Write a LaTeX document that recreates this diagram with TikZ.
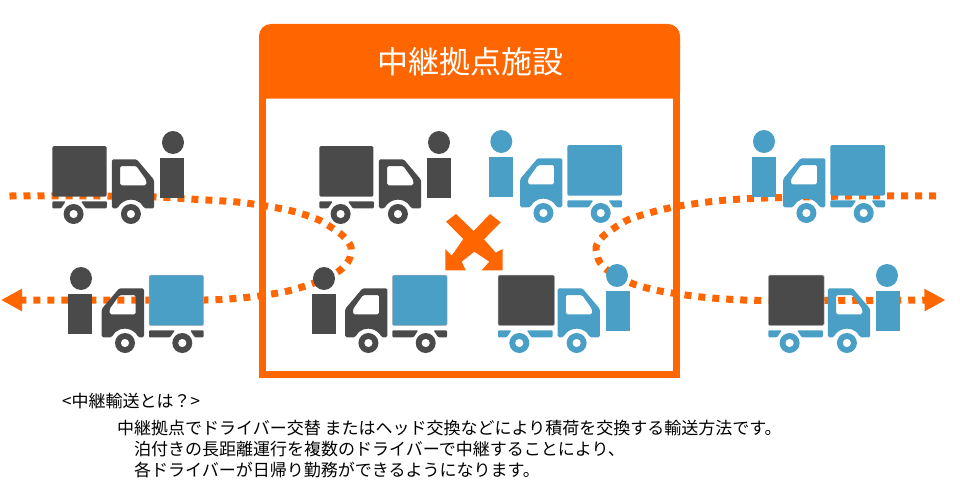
\documentclass[tikz,border=0pt]{standalone}
\usepackage{fontspec}
\setmainfont{Noto Sans CJK JP}
\usetikzlibrary{arrows.meta}
\definecolor{tkorange}{HTML}{FF6600}
\definecolor{tkdark}{HTML}{4A4A4A}
\definecolor{tkblue}{HTML}{4A9FC6}
\tikzset{
  pics/truck/.style n args={4}{code={
    % cargo box
    \fill[fill=#2,draw=#4,line width=.5pt,rounded corners=1.5pt] (0,0) rectangle (#3,50.7);
    % chassis
    \fill[fill=#1,rounded corners=1pt] (0,55.3) -- (13.4,55.3) -- (8.8,62.3) -- (0,62.3) -- cycle;
    \fill[fill=#1,rounded corners=1pt] (28.8,55.3) -- (54.6,55.3) -- (54.6,62.3) -- (33.4,62.3) -- cycle;
    % cab with window
    \fill[fill=#1,even odd rule,rounded corners=1.5pt]
      (59.6,62.3) -- (59.6,13.3) -- (84.4,13.3) -- (101.9,34) -- (101.9,62.3) -- (91.7,62.3)
      arc[start angle=-23.5,end angle=-156.5,radius=14.3] -- cycle
      (67.9,20) -- (84,20) -- (94,34) -- (94,39.3) -- (67.9,39.3) -- cycle;
    % wheels
    \fill[fill=#1,even odd rule] (21.3,68) circle[radius=10] (21.3,68) circle[radius=4.2];
    \fill[fill=#1,even odd rule] (78.6,68) circle[radius=10] (78.6,68) circle[radius=4.2];
  }},
  pics/person/.style 2 args={code={
    \fill[fill=#1] (#2,-15.5) ellipse[x radius=11,y radius=11.5];
    \fill[fill=#1] (0,0) rectangle (24,40);
  }},
  dotroute/.style={draw=tkorange,line width=7pt,dash pattern=on 7pt off 7pt,
    -{Triangle[width=21pt,length=21pt]}},
  headerbox/.style={fill=tkorange,rounded corners=12pt},
  titletext/.style={text=white,font=\fontsize{31}{33}\selectfont,inner sep=0pt},
  bodytext/.style={text=black,anchor=west,font=\fontsize{17}{20}\selectfont,inner sep=0pt},
}
\begin{document}
\begin{tikzpicture}[x=1pt,y=-1pt]
\useasboundingbox (0,0) rectangle (960,503);
\fill[white] (0,0) rectangle (960,503);

% dotted routes
\draw[dotroute] plot[smooth,tension=.45] coordinates {
  (9.5,196) (100,196) (156,197) (195,199.3) (237,202) (266,206) (292,211) (319,220)
  (342,235) (351,247) (349,260) (339,271) (314,283) (288,291) (259,296) (232,298.7)
  (205,300) (120,300) (1,300)};
\draw[dotroute] plot[smooth,tension=.45] coordinates {
  (936,196) (850,196) (765,198) (723,200.3) (681,205.7) (653.7,211.7) (627,220.3)
  (603.7,235.7) (596,247.3) (599,260.7) (608,270.7) (632.7,283.7) (660,291)
  (701.3,297) (743.3,300) (800,300.5) (945.5,300)};

% facility frame
\draw[tkorange,line width=7pt] (262.5,80) -- (262.5,374.5) -- (676.5,374.5) -- (676.5,80);
\fill[headerbox] (259,60) -- (259,24) -- (680,24) -- (680,60) -- cycle;
\fill[tkorange,rounded corners=6pt] (259,40) rectangle (680,98.5);
\node[titletext] (title) at (470,62) {中継拠点施設};

% exchange cross
\fill[tkorange] (446,221.7) -- (456,214) -- (473.7,231) -- (490,214) -- (500.7,222.3)
  -- (484,239.3) -- (495.7,252.7) -- (502.7,249) -- (502.7,270.3) -- (481.7,270.3)
  -- (489.3,261.7) -- (474.3,251.7) -- (461.7,261.7) -- (465.7,270.3) -- (445.3,270.3)
  -- (445.3,249) -- (451.7,255.7) -- (463.3,239) -- cycle;

% trucks and drivers
\pic (t1) at (52.3,146) {truck={tkdark}{tkdark}{54.4}{none}};
\pic (d1) at (160,158) {person={tkdark}{13}};
\pic[xscale=-1] (t2) at (203.6,275) {truck={tkdark}{tkblue}{54.6}{gray!60}};
\pic (d2) at (68,294) {person={tkdark}{13}};
\pic (t3) at (319.3,146) {truck={tkdark}{tkdark}{54}{none}};
\pic (d3) at (426.5,158) {person={tkdark}{12.5}};
\pic[xscale=-1] (t4) at (622,145) {truck={tkblue}{tkblue}{54.7}{none}};
\pic (d4) at (489,157) {person={tkblue}{12.3}};
\pic[xscale=-1] (t5) at (447,275) {truck={tkdark}{tkblue}{54.6}{gray!60}};
\pic (d5) at (311.5,294) {person={tkdark}{12.5}};
\pic (t6) at (498,275) {truck={tkblue}{tkdark}{56.5}{gray!60}};
\pic (d6) at (606,291) {person={tkblue}{11}};
\pic[xscale=-1] (t7) at (885,145) {truck={tkblue}{tkblue}{54.7}{none}};
\pic (d7) at (752,157) {person={tkblue}{12}};
\pic (t8) at (768.3,275) {truck={tkblue}{tkdark}{55.7}{gray!60}};
\pic (d8) at (876,291) {person={tkblue}{11}};

% explanation
\node[bodytext] (q) at (62,401) {<中継輸送とは？>};
\node[bodytext] (l1) at (117,428) {中継拠点でドライバー交替 またはヘッド交換などにより積荷を交換する輸送方法です。};
\node[bodytext] (l2) at (134,449) {泊付きの長距離運行を複数のドライバーで中継することにより、};
\node[bodytext] (l3) at (134,470) {各ドライバーが日帰り勤務ができるようになります。};
\end{tikzpicture}
\end{document}
